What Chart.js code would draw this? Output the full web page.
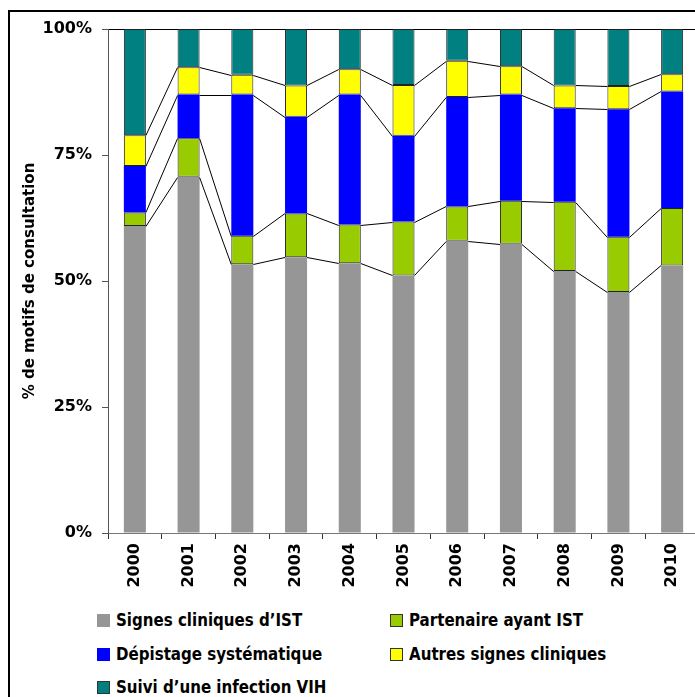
<!DOCTYPE html>
<html>
<head>
<meta charset="utf-8">
<script src="https://cdn.jsdelivr.net/npm/chart.js@4"></script>
<style>
    html, body { margin: 0; padding: 0; background: #fff; overflow: hidden; }
    #frame { position: absolute; left: 8px; top: 10px; width: 720px; height: 720px; border: 2px solid #000; }
    #chartBox { position: absolute; left: 0; top: 0; }
    #legend { position: absolute; left: 97px; top: 608px; width: 600px; font-family: "DejaVu Sans Condensed", "DejaVu Sans", sans-serif; font-weight: bold; font-size: 18px; color: #000; }
    .item { position: absolute; white-space: nowrap; }
    .box { position: absolute; left: 0; top: 6px; width: 13px; height: 13px; box-sizing: border-box; }
    .txt { position: absolute; left: 19px; top: 0; line-height: 24px; transform: scaleX(0.93); transform-origin: left center; }
</style>
</head>
<body>
<div id="frame"></div>
<div id="chartBox"><canvas id="motifsChart" width="705" height="603"></canvas></div>
<div id="legend"></div>
<script>
const years = ['2000', '2001', '2002', '2003', '2004', '2005', '2006', '2007', '2008', '2009', '2010'];
const yTicks = [0, 25, 50, 75, 100];

const signesIST = [60.9, 70.7, 53.3, 54.7, 53.5, 51.1, 58.0, 57.4, 52.0, 47.8, 53.1];
const partenaireIST = [2.7, 7.6, 5.7, 8.7, 7.7, 10.7, 6.8, 8.5, 13.7, 11.0, 11.4];
const depistage = [9.2, 8.7, 28.0, 19.2, 25.8, 17.0, 21.7, 21.1, 18.6, 25.3, 23.1];
const autresSignes = [6.1, 5.4, 3.9, 6.2, 5.0, 10.1, 7.2, 5.6, 4.5, 4.6, 3.4];
const suiviVIH = [21.1, 7.6, 9.1, 11.2, 8.0, 11.1, 6.3, 7.4, 11.2, 11.3, 9.0];

const seriesNames = ['Signes cliniques d\u2019IST', 'Partenaire ayant IST', 'D\u00e9pistage syst\u00e9matique', 'Autres signes cliniques', 'Suivi d\u2019une infection VIH'];

const axisFont = { family: '"DejaVu Sans", sans-serif', weight: 'bold', size: 16 };

// Excel-style series lines between the tops of each stacked segment
const seriesLines = {
    id: 'seriesLines',
    afterDatasetsDraw(chart) {
        const ctx = chart.ctx;
        ctx.save();
        ctx.strokeStyle = '#000';
        ctx.lineWidth = 1;
        chart.data.datasets.forEach((ds, d) => {
            const bars = chart.getDatasetMeta(d).data;
            for (let i = 0; i < bars.length - 1; i++) {
                const a = bars[i], b = bars[i + 1];
                ctx.beginPath();
                ctx.moveTo(a.x + a.width / 2, Math.round(a.y) + 0.5);
                ctx.lineTo(b.x - b.width / 2, Math.round(b.y) + 0.5);
                ctx.stroke();
            }
        });
        ctx.restore();
    }
};

function makeDataset(label, data, color, bordered) {
    return {
        label: label,
        data: data,
        backgroundColor: color,
        borderColor: bordered ? '#222' : color,
        borderWidth: bordered ? 1 : 0,
        borderSkipped: false,
        categoryPercentage: 1,
        barPercentage: 0.41
    };
}

const datasets = [
    makeDataset(seriesNames[0], signesIST, '#969696', false),
    makeDataset(seriesNames[1], partenaireIST, '#99CC00', true),
    makeDataset(seriesNames[2], depistage, '#0000FF', false),
    makeDataset(seriesNames[3], autresSignes, '#FFFF00', true),
    makeDataset(seriesNames[4], suiviVIH, '#008080', true)
];

const ctx = document.getElementById('motifsChart').getContext('2d');
new Chart(ctx, {
    type: 'bar',
    data: { labels: years, datasets: datasets },
    plugins: [seriesLines],
    options: {
        responsive: false,
        animation: false,
        layout: { padding: { top: 29, right: 6, bottom: 0, left: 0 } },
        plugins: {
            legend: { display: false },
            tooltip: { enabled: false }
        },
        scales: {
            x: {
                stacked: true,
                afterFit: (scale) => { scale.height = 70; },
                border: { color: '#777', width: 1 },
                grid: { offset: true, drawOnChartArea: false, tickLength: 6, color: '#333' },
                ticks: { font: axisFont, color: '#000', minRotation: 90, maxRotation: 90, padding: 4 }
            },
            y: {
                stacked: true,
                min: 0,
                max: 100,
                afterFit: (scale) => { scale.width = 108; },
                afterBuildTicks: (scale) => { scale.ticks = yTicks.map(v => ({ value: v })); },
                border: { color: '#555', width: 1 },
                grid: {
                    tickLength: 6,
                    color: (c) => c.tick && c.tick.value === 100 ? '#000' : 'rgba(0,0,0,0)',
                    tickColor: '#555'
                },
                ticks: { font: axisFont, color: '#000', padding: 10, callback: (v) => v + '%' },
                title: {
                    display: true,
                    text: '% de motifs de consultation',
                    font: { family: '"DejaVu Sans", sans-serif', weight: 'bold', size: 15 },
                    color: '#000',
                    padding: { top: 21, bottom: 0 }
                }
            }
        }
    }
});

// legend in two columns, built from the datasets
const legend = document.getElementById('legend');
const slots = [[0, 0], [293, 0], [0, 34], [293, 34], [0, 67]];
datasets.forEach((ds, i) => {
    const item = document.createElement('div');
    item.className = 'item';
    item.style.left = slots[i][0] + 'px';
    item.style.top = slots[i][1] + 'px';
    const box = document.createElement('div');
    box.className = 'box';
    box.style.background = ds.backgroundColor;
    if (ds.borderWidth) box.style.border = '1px solid #333';
    const txt = document.createElement('div');
    txt.className = 'txt';
    txt.textContent = ds.label;
    item.appendChild(box);
    item.appendChild(txt);
    legend.appendChild(item);
});
</script>
</body>
</html>
